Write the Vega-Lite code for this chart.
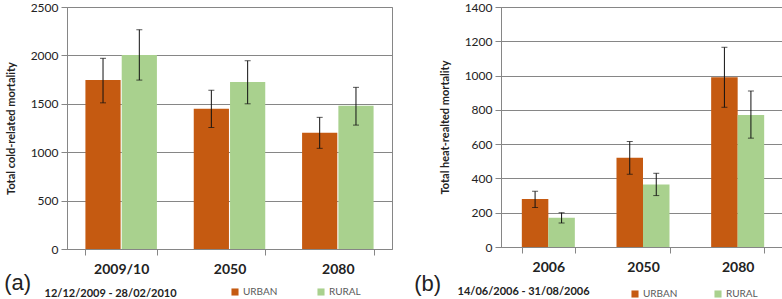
{
  "$schema": "https://vega.github.io/schema/vega-lite/v6.json",
  "padding": {"left": 3, "top": 0, "right": 1, "bottom": 0},
  "spacing": 20,
  "config": {
    "font": "Lato",
    "view": {"stroke": "#868686", "strokeWidth": 1},
    "axis": {"gridColor": "#868686", "domainColor": "#868686", "tickColor": "#868686", "labelColor": "#222222", "titleColor": "#222222", "labelFont": "Lato", "titleFont": "Lato"},
    "legend": {"labelFont": "Lato"}
  },
  "datasets": {
    "cold": [
      {"cat": "2009/10", "series": "URBAN", "value": 1745, "lo": 1510, "hi": 1970},
      {"cat": "2009/10", "series": "RURAL", "value": 2005, "lo": 1745, "hi": 2265},
      {"cat": "2050", "series": "URBAN", "value": 1450, "lo": 1255, "hi": 1640},
      {"cat": "2050", "series": "RURAL", "value": 1725, "lo": 1500, "hi": 1945},
      {"cat": "2080", "series": "URBAN", "value": 1200, "lo": 1040, "hi": 1360},
      {"cat": "2080", "series": "RURAL", "value": 1480, "lo": 1280, "hi": 1670}
    ],
    "heat": [
      {"cat": "2006", "series": "URBAN", "value": 280, "lo": 230, "hi": 325},
      {"cat": "2006", "series": "RURAL", "value": 170, "lo": 140, "hi": 200},
      {"cat": "2050", "series": "URBAN", "value": 520, "lo": 425, "hi": 615},
      {"cat": "2050", "series": "RURAL", "value": 365, "lo": 300, "hi": 430},
      {"cat": "2080", "series": "URBAN", "value": 990, "lo": 815, "hi": 1165},
      {"cat": "2080", "series": "RURAL", "value": 770, "lo": 635, "hi": 910}
    ]
  },
  "resolve": {"scale": {"color": "independent", "xOffset": "independent", "x": "independent", "y": "independent"}},
  "hconcat": [
    {
      "width": 325,
      "height": 242,
      "data": {"name": "cold"},
      "title": {"text": "(a)", "orient": "bottom", "anchor": "start", "frame": "bounds", "font": "Liberation Sans", "fontSize": 22, "fontWeight": "normal", "color": "#222222", "offset": 0, "dy": -25, "dx": -1},
      "encoding": {
        "x": {"field": "cat", "type": "nominal", "sort": ["2009/10", "2050", "2080"],
          "scale": {"paddingInner": 0.34, "paddingOuter": 0.17},
          "axis": {"title": "12/12/2009 - 28/02/2010", "labelAngle": 0, "labelFontSize": 14, "labelFontWeight": "bold", "labelPadding": 7, "tickBand": "extent", "tickSize": 6,
            "titleFontSize": 11, "titleFontWeight": "bold", "titleAlign": "left", "titleAnchor": null, "titleX": -23, "titleY": 44, "titleBaseline": "middle"}},
        "xOffset": {"field": "series", "type": "nominal", "sort": ["URBAN", "RURAL"], "scale": {"paddingInner": 0.03, "paddingOuter": 0}}
      },
      "layer": [
        {
          "mark": {"type": "bar"},
          "encoding": {
            "y": {"field": "value", "type": "quantitative", "scale": {"domain": [0, 2500], "nice": false}, "title": "Total cold-related mortality",
              "axis": {"values": [0, 500, 1000, 1500, 2000, 2500], "format": "d", "labelFontSize": 12, "labelPadding": 3, "tickSize": 6, "titleFontSize": 11, "titlePadding": 14, "titleFontWeight": "bold"}},
            "color": {"field": "series", "type": "nominal", "sort": ["URBAN", "RURAL"],
              "scale": {"domain": ["URBAN", "RURAL"], "range": ["#C55A11", "#A9D18E"]},
              "legend": {"title": null, "orient": "none", "legendX": 163, "legendY": 280, "direction": "horizontal", "columns": 2, "columnPadding": 38, "symbolType": "square", "symbolSize": 50, "symbolStrokeWidth": 0, "labelFontSize": 10, "labelColor": "#595959", "labelOffset": 3}}
          }
        },
        {
          "mark": {"type": "rule", "color": "#111111", "strokeWidth": 1},
          "encoding": {"y": {"field": "lo", "type": "quantitative", "title": "Total cold-related mortality",
              "axis": {"values": [0, 500, 1000, 1500, 2000, 2500], "format": "d", "labelFontSize": 12, "labelPadding": 3, "tickSize": 6, "titleFontSize": 11, "titlePadding": 14, "titleFontWeight": "bold"}}, "y2": {"field": "hi"}}
        },
        {
          "mark": {"type": "tick", "color": "#111111", "size": 6, "thickness": 1, "orient": "horizontal"},
          "encoding": {"y": {"field": "hi", "type": "quantitative", "title": "Total cold-related mortality",
              "axis": {"values": [0, 500, 1000, 1500, 2000, 2500], "format": "d", "labelFontSize": 12, "labelPadding": 3, "tickSize": 6, "titleFontSize": 11, "titlePadding": 14, "titleFontWeight": "bold"}}}
        },
        {
          "mark": {"type": "tick", "color": "#111111", "size": 6, "thickness": 1, "orient": "horizontal"},
          "encoding": {"y": {"field": "lo", "type": "quantitative", "title": "Total cold-related mortality",
              "axis": {"values": [0, 500, 1000, 1500, 2000, 2500], "format": "d", "labelFontSize": 12, "labelPadding": 3, "tickSize": 6, "titleFontSize": 11, "titlePadding": 14, "titleFontWeight": "bold"}}}
        }
      ]
    },
    {
      "width": 284,
      "height": 240,
      "data": {"name": "heat"},
      "title": {"text": "(b)", "orient": "bottom", "anchor": "start", "frame": "bounds", "font": "Liberation Sans", "fontSize": 22, "fontWeight": "normal", "color": "#222222", "offset": 0, "dy": -25, "dx": -25},
      "encoding": {
        "x": {"field": "cat", "type": "nominal", "sort": ["2006", "2050", "2080"],
          "scale": {"paddingInner": 0.44, "paddingOuter": 0.22},
          "axis": {"title": "14/06/2006 - 31/08/2006", "labelAngle": 0, "labelFontSize": 14, "labelFontWeight": "bold", "labelPadding": 7, "tickBand": "extent", "tickSize": 6,
            "titleFontSize": 11, "titleFontWeight": "bold", "titleAlign": "left", "titleAnchor": null, "titleX": -44, "titleY": 44, "titleBaseline": "middle"}},
        "xOffset": {"field": "series", "type": "nominal", "sort": ["URBAN", "RURAL"], "scale": {"paddingInner": 0.0, "paddingOuter": 0}}
      },
      "layer": [
        {
          "mark": {"type": "bar"},
          "encoding": {
            "y": {"field": "value", "type": "quantitative", "scale": {"domain": [0, 1400], "nice": false}, "title": "Total heat-realted mortality",
              "axis": {"values": [0, 200, 400, 600, 800, 1000, 1200, 1400], "format": "d", "labelFontSize": 12, "labelPadding": 3, "tickSize": 6, "titleFontSize": 11, "titlePadding": 14, "titleFontWeight": "bold"}},
            "color": {"field": "series", "type": "nominal", "sort": ["URBAN", "RURAL"],
              "scale": {"domain": ["URBAN", "RURAL"], "range": ["#C55A11", "#A9D18E"]},
              "legend": {"title": null, "orient": "none", "legendX": 129, "legendY": 282, "direction": "horizontal", "columns": 2, "columnPadding": 35, "symbolType": "square", "symbolSize": 50, "symbolStrokeWidth": 0, "labelFontSize": 10, "labelColor": "#595959", "labelOffset": 3}}
          }
        },
        {
          "mark": {"type": "rule", "color": "#111111", "strokeWidth": 1},
          "encoding": {"y": {"field": "lo", "type": "quantitative", "title": "Total heat-realted mortality",
              "axis": {"values": [0, 200, 400, 600, 800, 1000, 1200, 1400], "format": "d", "labelFontSize": 12, "labelPadding": 3, "tickSize": 6, "titleFontSize": 11, "titlePadding": 14, "titleFontWeight": "bold"}}, "y2": {"field": "hi"}}
        },
        {
          "mark": {"type": "tick", "color": "#111111", "size": 6, "thickness": 1, "orient": "horizontal"},
          "encoding": {"y": {"field": "hi", "type": "quantitative", "title": "Total heat-realted mortality",
              "axis": {"values": [0, 200, 400, 600, 800, 1000, 1200, 1400], "format": "d", "labelFontSize": 12, "labelPadding": 3, "tickSize": 6, "titleFontSize": 11, "titlePadding": 14, "titleFontWeight": "bold"}}}
        },
        {
          "mark": {"type": "tick", "color": "#111111", "size": 6, "thickness": 1, "orient": "horizontal"},
          "encoding": {"y": {"field": "lo", "type": "quantitative", "title": "Total heat-realted mortality",
              "axis": {"values": [0, 200, 400, 600, 800, 1000, 1200, 1400], "format": "d", "labelFontSize": 12, "labelPadding": 3, "tickSize": 6, "titleFontSize": 11, "titlePadding": 14, "titleFontWeight": "bold"}}}
        }
      ]
    }
  ]
}
